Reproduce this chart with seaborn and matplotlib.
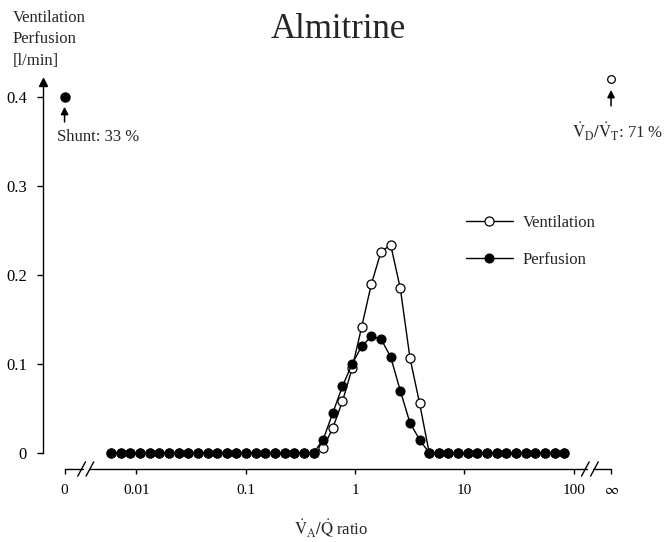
import numpy as np
import pandas as pd
import matplotlib
matplotlib.use("Agg")
import matplotlib.pyplot as plt
import seaborn as sns

# === 数据 ===
# V_A/Q compartments (log spaced, as plotted)
va_q = [0.00586, 0.00718, 0.00880, 0.0108, 0.0132, 0.0162, 0.0198, 0.0243,
        0.0298, 0.0365, 0.0447, 0.0548, 0.0671, 0.0822, 0.101, 0.123,
        0.151, 0.185, 0.227, 0.278, 0.341, 0.417, 0.511, 0.626,
        0.767, 0.940, 1.152, 1.411, 1.729, 2.118, 2.595, 3.179,
        3.895, 4.772, 5.847, 7.163, 8.776, 10.75, 13.17, 16.14,
        19.77, 24.23, 29.69, 36.37, 44.56, 54.59, 66.89, 81.95]
ventilation = [0] * 22 + [0.006, 0.028, 0.058, 0.095, 0.142, 0.190, 0.226, 0.234,
                          0.185, 0.107, 0.056] + [0] * 15
perfusion = [0] * 22 + [0.015, 0.045, 0.075, 0.100, 0.120, 0.131, 0.128, 0.108,
                        0.070, 0.034, 0.015] + [0] * 15
shunt_value = 0.40        # perfusion at V/Q = 0
deadspace_value = 0.42    # ventilation at V/Q = inf

x_ticks = ["0", "0.01", "0.1", "1", "10", "100", r"$\infty$"]

# where "0" and "∞" sit on the broken log axis
ZERO_POS = 0.0022
INF_POS = 220.0

df = pd.DataFrame({"va_q": va_q, "Ventilation": ventilation, "Perfusion": perfusion})

# === 样式 ===
sns.set_theme(style="ticks")
plt.rcParams["font.family"] = ["Liberation Serif", "DejaVu Serif"]
plt.rcParams["mathtext.fontset"] = "stix"
plt.rcParams["axes.linewidth"] = 1.0
FS = 12

fig = plt.figure(figsize=(6.69, 5.42), dpi=100)
ax = fig.add_axes([0.0643, 0.1314, 0.8625, 0.7175])

sns.lineplot(data=df, x="va_q", y="Ventilation", ax=ax, color="black", lw=1.0,
             marker="o", markersize=6.5, markerfacecolor="white",
             markeredgecolor="black", markeredgewidth=0.9, label="Ventilation",
             clip_on=False, zorder=3)
sns.lineplot(data=df, x="va_q", y="Perfusion", ax=ax, color="black", lw=1.0,
             marker="o", markersize=6.5, markerfacecolor="black",
             markeredgecolor="black", label="Perfusion", clip_on=False, zorder=4)

# shunt and dead space compartments
ax.plot([ZERO_POS], [shunt_value], "o", color="black", ms=6.5, clip_on=False)
ax.plot([INF_POS], [deadspace_value], "o", mfc="white", mec="black", mew=0.9,
        ms=5.5, clip_on=False)

arrow = dict(arrowstyle="-|>", color="black", lw=1.1, mutation_scale=11,
             shrinkA=0, shrinkB=0)
ax.annotate("", xy=(ZERO_POS, shunt_value - 0.011), xytext=(ZERO_POS, shunt_value - 0.028),
            arrowprops=arrow, annotation_clip=False)
ax.text(0.00188, 0.355, "Shunt: 33 %", ha="left", va="center", fontsize=FS)
ax.annotate("", xy=(INF_POS, deadspace_value - 0.012), xytext=(INF_POS, deadspace_value - 0.030),
            arrowprops=arrow, annotation_clip=False)
ax.text(INF_POS * 1.14, 0.361,
        r"$\dot{\mathrm{V}}_{\mathrm{D}}/\dot{\mathrm{V}}_{\mathrm{T}}$: 71 %",
        ha="center", va="center", fontsize=FS)

# === 坐标轴 ===
ax.set_xscale("log")
ax.set_xlim(0.001397, 265.8)
ax.set_ylim(-0.02, 0.417)
ax.set_yticks([0, 0.1, 0.2, 0.3, 0.4])
ax.set_yticklabels(["0", "0.1", "0.2", "0.3", "0.4"], fontsize=FS)
ax.set_xticks([ZERO_POS, 0.01, 0.1, 1, 10, 100, INF_POS])
xlabels = ax.set_xticklabels(x_ticks, fontsize=FS)
xlabels[-1].set_fontsize(19)
ax.minorticks_off()
ax.tick_params(axis="y", direction="out", length=4.5, width=1.0, pad=7, colors="black")
ax.tick_params(axis="x", direction="out", length=3.5, width=1.0, pad=7, colors="black")

for s in ["top", "right"]:
    ax.spines[s].set_visible(False)
ax.spines["left"].set_bounds(0, 0.417)
ax.spines["left"].set_color("black")
y0 = -0.018
ax.spines["bottom"].set_position(("data", y0))
ax.spines["bottom"].set_visible(False)

# broken x axis line with // marks
segs = [(ZERO_POS, 0.00325), (0.00365, 132.0), (150.0, INF_POS)]
for a, b in segs:
    ax.plot([a, b], [y0, y0], color="black", lw=1.0, clip_on=False)
for xc in [0.00315, 0.00375, 128.0, 155.0]:
    ax.plot([xc / 10 ** 0.035, xc * 10 ** 0.035], [y0 - 0.008, y0 + 0.008],
            color="black", lw=1.0, clip_on=False)

# y axis arrow head
ax.plot([0], [1], marker="^", color="black", ms=6, transform=ax.transAxes, clip_on=False)

ax.set_xlabel(r"$\dot{\mathrm{V}}_{\mathrm{A}}/\dot{\mathrm{Q}}$ ratio", fontsize=FS,
              labelpad=15)
ax.set_ylabel("")

fig.text(13 / 669, 1 - 10 / 542, "Ventilation\nPerfusion\n[l/min]", ha="left", va="top",
         fontsize=FS, linespacing=1.45)
fig.text(338 / 669, 1 - 30 / 542, "Almitrine", ha="center", va="center", fontsize=25)

ax.legend(loc="upper left", bbox_to_anchor=(466 / 669, 1 - 215 / 542),
          bbox_transform=fig.transFigure, frameon=False, fontsize=FS,
          handlelength=2.8, handletextpad=0.6, labelspacing=1.25,
          borderpad=0, borderaxespad=0)

fig.savefig("out.png", dpi=100)
